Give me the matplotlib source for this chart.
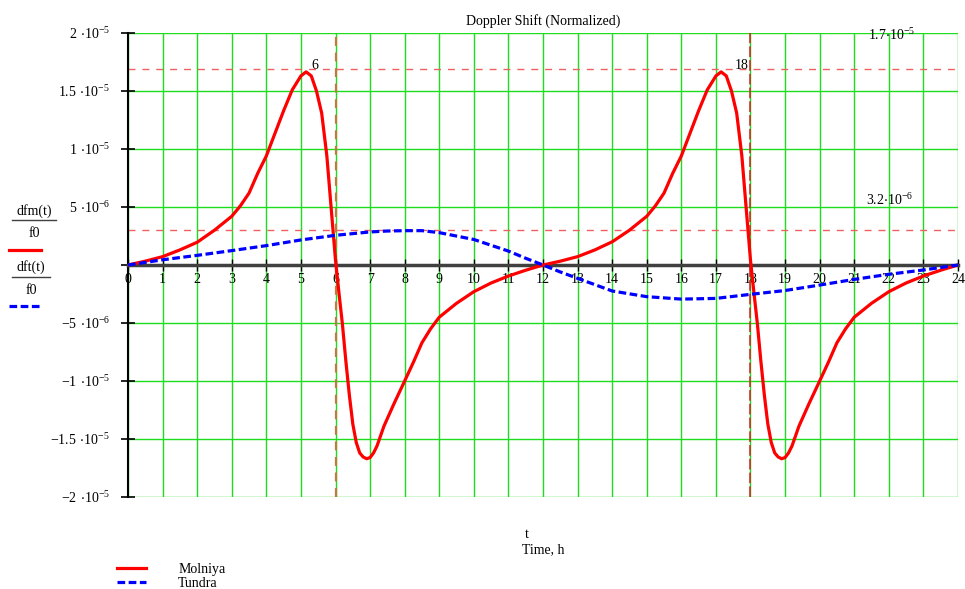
import numpy as np
import matplotlib
matplotlib.use("Agg")
import matplotlib.pyplot as plt
import matplotlib.transforms as mtransforms
from matplotlib.lines import Line2D

plt.rcParams['font.family'] = ['Liberation Serif', 'DejaVu Serif']
plt.rcParams['mathtext.fontset'] = 'custom'
plt.rcParams['mathtext.rm'] = 'Liberation Serif'
plt.rcParams['mathtext.default'] = 'regular'

## Data (values in units of 1e-6)
t_molniya = [0, 0.5, 1, 1.5, 2, 2.5, 3, 3.25, 3.5, 3.75, 4, 4.25, 4.5, 4.75, 5, 5.15, 5.3,
             5.45, 5.6, 5.75, 5.85, 6, 6.1, 6.2, 6.3, 6.4, 6.5, 6.6, 6.7, 6.8, 6.9, 7, 7.1,
             7.2, 7.4, 7.7, 8, 8.25, 8.5, 8.75, 9, 9.5, 10, 10.5, 11, 11.5,
             12, 12.5, 13, 13.5, 14, 14.5, 15, 15.25, 15.5, 15.75, 16, 16.25, 16.5, 16.75, 17,
             17.15, 17.3, 17.45, 17.6, 17.75, 17.85, 18, 18.1, 18.2, 18.3, 18.4, 18.5, 18.6,
             18.7, 18.8, 18.9, 19, 19.1, 19.2, 19.4, 19.7, 20, 20.25, 20.5, 20.75, 21, 21.5,
             22, 22.5, 23, 23.5, 24]
molniya = [0, 0.33, 0.72, 1.3, 1.96, 3.0, 4.2, 5.1, 6.2, 7.9, 9.4, 11.35, 13.3, 15.1, 16.3,
           16.65, 16.3, 15.0, 13.1, 9.4, 5.8, 0.4, -2.4, -5.1, -8.3, -11.2, -13.7, -15.3,
           -16.2, -16.55, -16.7, -16.6, -16.2, -15.6, -13.9, -11.9, -10.0, -8.4, -6.7, -5.5,
           -4.5, -3.3, -2.3, -1.55, -0.95, -0.45,
           0, 0.33, 0.72, 1.3, 2.0, 3.0, 4.2, 5.1, 6.2, 7.9, 9.4, 11.35, 13.3, 15.1, 16.3,
           16.65, 16.3, 15.0, 13.1, 9.4, 5.8, 0.4, -2.4, -5.1, -8.3, -11.2, -13.7, -15.3,
           -16.2, -16.55, -16.7, -16.6, -16.2, -15.6, -13.9, -11.9, -10.0, -8.4, -6.7, -5.5,
           -4.5, -3.3, -2.3, -1.55, -0.95, -0.45, 0]

t_tundra = [0, 1, 2, 3, 4, 5, 6, 7, 7.5, 8, 8.5, 9, 10, 11, 11.5, 12, 12.5, 13, 14, 15, 16, 17, 18,
            19, 20, 21, 22, 23, 24]
tundra = [0, 0.45, 0.83, 1.24, 1.67, 2.16, 2.56, 2.85, 2.93, 2.96, 2.96, 2.79, 2.2, 1.2, 0.58, 0,
          -0.6, -1.15, -2.24, -2.73, -2.94, -2.88, -2.53, -2.2, -1.73, -1.24, -0.8, -0.43, 0]

markers_t = [6, 18]
markers_y = [16.9, 3.0]
marker_labels = [r'$1.7{\cdot}10^{-5}$', r'$3.2{\cdot}10^{-6}$']

yticks = [-20, -15, -10, -5, 0, 5, 10, 15, 20]
ytick_labels = [r'$-2\ {\cdot}10^{-5}$', r'$-1.5\ {\cdot}10^{-5}$', r'$-1\ {\cdot}10^{-5}$',
                r'$-5\ {\cdot}10^{-6}$', '', r'$5\ {\cdot}10^{-6}$', r'$1\ {\cdot}10^{-5}$',
                r'$1.5\ {\cdot}10^{-5}$', r'$2\ {\cdot}10^{-5}$']

scale = 1e-6

fig = plt.figure(figsize=(9.65, 5.89), dpi=100)
ax = fig.add_axes([128 / 965, 1 - 497 / 589, 830 / 965, 464 / 589])

## grid and reference lines
ax.grid(True, color='#1edc1e', lw=1.0)
for y in markers_y:
    ax.axhline(y * scale, color='#f06060', lw=1.0, dashes=(5, 5), zorder=2)
ax.axvline(markers_t[0], color='#c07a40', lw=1.6, dashes=(4, 3), zorder=2)
ax.axvline(markers_t[1], color='#d82020', lw=1.1, dashes=(7, 2), zorder=2)

## curves
line_m, = ax.plot(t_molniya, np.array(molniya) * scale, color='#ff0000', lw=2.3,
                  solid_joinstyle='round', zorder=3)
line_t, = ax.plot(t_tundra, np.array(tundra) * scale, color='#0000ff', lw=2.3,
                  dashes=(2.4, 1.1), zorder=3)

ax.set_xlim(0, 24)
ax.set_ylim(-2e-5, 2e-5)
ax.set_xticks(range(0, 25))
ax.set_yticks(np.array(yticks) * scale)
ax.set_yticklabels(ytick_labels, fontsize=10)
ax.tick_params(axis='x', direction='inout', length=9, width=1, pad=1, labelsize=10)
ax.tick_params(axis='y', direction='inout', length=10, width=1.2, pad=8)
shift = mtransforms.ScaledTranslation(3 / 100, 0, fig.dpi_scale_trans)
for lab in ax.get_xticklabels():
    lab.set_transform(lab.get_transform() + shift)
ax.spines['bottom'].set_position(('data', 0))
ax.spines['bottom'].set_color('#404040')
ax.spines['bottom'].set_linewidth(2.5)
ax.spines['left'].set_linewidth(1.5)
ax.spines['top'].set_visible(False)
ax.spines['right'].set_visible(False)

## marker labels
ax.text(5.3, 17.2 * scale, '6', fontsize=10, ha='left', va='center')
ax.text(17.95, 17.2 * scale, '18', fontsize=10, ha='right', va='center')
ax.text(21.4, 19.8 * scale, marker_labels[0], fontsize=10, ha='left', va='center')
ax.text(21.35, 5.6 * scale, marker_labels[1], fontsize=10, ha='left', va='center')

ax.set_title('Doppler Shift (Normalized)', fontsize=10, pad=6)

## y label block on the left
fig.text(34 / 965, 1 - 211 / 589, 'dfm(t)', fontsize=10, ha='center', va='center')
fig.add_artist(Line2D([12 / 965, 56 / 965], [1 - 220 / 589] * 2, color='#404040', lw=1))
fig.text(34 / 965, 1 - 233 / 589, 'f0', fontsize=10, ha='center', va='center')
fig.add_artist(Line2D([9 / 965, 41 / 965], [1 - 250 / 589] * 2, color='#ff0000', lw=2.3))
fig.text(31 / 965, 1 - 267 / 589, 'dft(t)', fontsize=10, ha='center', va='center')
fig.add_artist(Line2D([12 / 965, 50 / 965], [1 - 277 / 589] * 2, color='#404040', lw=1))
fig.text(31 / 965, 1 - 291 / 589, 'f0', fontsize=10, ha='center', va='center')
fig.add_artist(Line2D([9 / 965, 41 / 965], [1 - 306 / 589] * 2, color='#0000ff', lw=2.3,
                      dashes=(2.4, 1.1)))

## x labels
fig.text(527 / 965, 1 - 535 / 589, 't', fontsize=10, ha='center', va='center')
fig.text(543 / 965, 1 - 550 / 589, 'Time, h', fontsize=10, ha='center', va='center')

## legend
fig.legend([line_m, line_t], ['Molniya', 'Tundra'], loc='upper left',
           bbox_to_anchor=(110 / 965, 1 - 556 / 589), frameon=False, fontsize=10,
           handlelength=2.1, handletextpad=2.3, labelspacing=0.05, borderpad=0)

fig.savefig('out.png', dpi=100)
